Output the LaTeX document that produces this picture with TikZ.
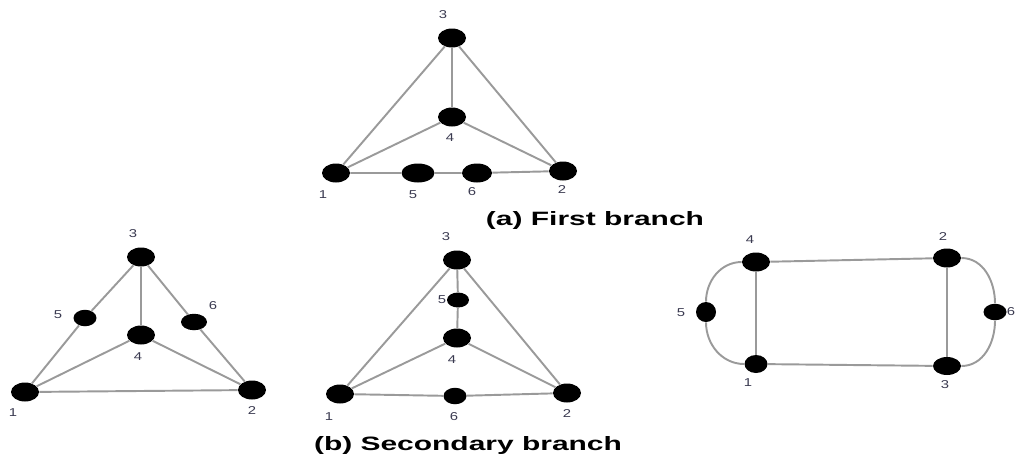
\documentclass[tikz,border=0pt]{standalone}
\usepackage{fontspec}
\setmainfont{Liberation Sans}
\usetikzlibrary{shapes.geometric}
\definecolor{edgegray}{HTML}{9A9A9A}
\definecolor{numcol}{HTML}{3A3A50}
\begin{document}
\begin{tikzpicture}[x=0.02cm, y=-0.02cm,
		dot/.style={ellipse, fill=black, inner sep=0pt, minimum width=0.56cm, minimum height=0.38cm},
		sdot/.style={dot, minimum width=0.46cm, minimum height=0.33cm},
		num/.style={text=numcol, font=\fontsize{6.5}{7}\selectfont, xscale=1.3, inner sep=0pt},
		caption/.style={font=\fontsize{11}{13}\selectfont\bfseries, xscale=1.55, inner sep=0pt},
		edge/.style={draw=edgegray, line width=1.1pt}]
		\useasboundingbox (0,0) rectangle (1016,461);
		% (a) first branch
		\node[dot] (a3) at (452,38) {};
		\node[dot] (a4) at (452,117) {};
		\node[dot] (a1) at (336,173) {};
		\node[dot, minimum width=0.66cm] (a5) at (418,173) {};
		\node[dot, minimum width=0.6cm] (a6) at (477,173) {};
		\node[dot] (a2) at (563,171) {};
		\draw[edge] (a3) -- (a1);
		\draw[edge] (a3) -- (a2);
		\draw[edge, line width=1.6pt] (a3) -- (a4);
		\draw[edge] (a4) -- (a1);
		\draw[edge] (a4) -- (a2);
		\draw[edge] (a1) -- (a5) -- (a6) -- (a2);
		\node[num] (la3) at (443,15) {3};
		\node[num] (la4) at (450,138) {4};
		\node[num] (la1) at (323,195) {1};
		\node[num] (la5) at (413,195) {5};
		\node[num] (la6) at (472,192) {6};
		\node[num] (la2) at (562,190) {2};
		\node[caption] (capa) at (595,220) {(a) First branch};
		% (b) secondary branch, left
		\node[dot] (b3) at (141,257) {};
		\node[sdot] (b5) at (85,318) {};
		\node[sdot, minimum width=0.52cm] (b6) at (194,322) {};
		\node[dot] (b4) at (141,335) {};
		\node[dot] (b1) at (25,392) {};
		\node[dot] (b2) at (252,390) {};
		\draw[edge] (b3) -- (b5) -- (b1);
		\draw[edge] (b3) -- (b6) -- (b2);
		\draw[edge] (b3) -- (b4);
		\draw[edge] (b4) -- (b1);
		\draw[edge] (b4) -- (b2);
		\draw[edge] (b1) -- (b2);
		\node[num] (lb3) at (133,234) {3};
		\node[num] (lb5) at (58,315) {5};
		\node[num] (lb6) at (213,306) {6};
		\node[num] (lb4) at (138,357) {4};
		\node[num] (lb1) at (13,413) {1};
		\node[num] (lb2) at (252,410) {2};
		% (b) secondary branch, middle
		\node[dot] (c3) at (457,260) {};
		\node[sdot, minimum width=0.44cm, minimum height=0.3cm] (c5) at (458,300) {};
		\node[dot] (c4) at (457,338) {};
		\node[dot] (c1) at (340,394) {};
		\node[sdot] (c6) at (455,396) {};
		\node[dot] (c2) at (567,393) {};
		\draw[edge] (c3) -- (c1);
		\draw[edge] (c3) -- (c2);
		\draw[edge] (c3) -- (c5) -- (c4);
		\draw[edge] (c4) -- (c1);
		\draw[edge] (c4) -- (c2);
		\draw[edge] (c1) -- (c6) -- (c2);
		\node[num] (lc3) at (446,237) {3};
		\node[num] (lc5) at (442,300) {5};
		\node[num] (lc4) at (452,360) {4};
		\node[num] (lc1) at (329,417) {1};
		\node[num] (lc6) at (454,417) {6};
		\node[num] (lc2) at (567,413) {2};
		\node[caption] (capb) at (468,445) {(b) Secondary branch};
		% (b) secondary branch, right
		\node[dot] (d4) at (756,262) {};
		\node[dot] (d2) at (947,258) {};
		\node[sdot, minimum width=0.4cm, minimum height=0.4cm] (d5) at (706,312) {};
		\node[sdot] (d6) at (995,312) {};
		\node[sdot, minimum height=0.36cm] (d1) at (756,364) {};
		\node[dot, minimum height=0.36cm] (d3) at (947,366) {};
		\draw[edge] (d4) -- (d2);
		\draw[edge] (d1) -- (d3);
		\draw[edge] (d4) -- (d1);
		\draw[edge] (d2) -- (d3);
		\draw[edge] (d4) to[out=180, in=90] (d5) to[out=-90, in=180] (d1);
		\draw[edge] (d2) to[out=0, in=90] (d6) to[out=-90, in=0] (d3);
		\node[num] (ld4) at (750,240) {4};
		\node[num] (ld2) at (943,237) {2};
		\node[num] (ld5) at (681,313) {5};
		\node[num] (ld6) at (1011,312) {6};
		\node[num] (ld1) at (748,383) {1};
		\node[num] (ld3) at (945,385) {3};
\end{tikzpicture}
\end{document}
